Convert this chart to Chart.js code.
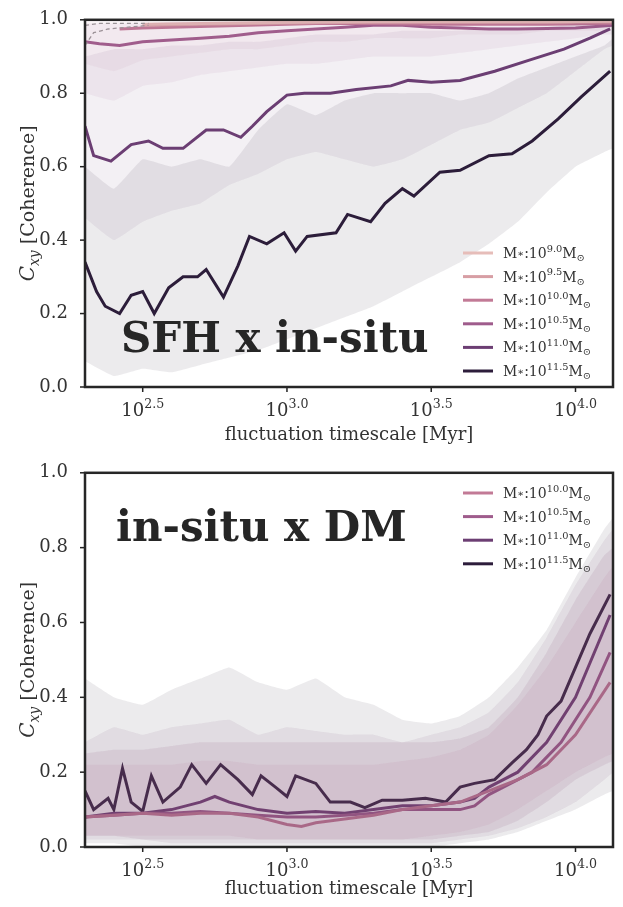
<!DOCTYPE html>
<html><head><meta charset="utf-8">
<script src="https://cdn.jsdelivr.net/npm/chart.js@4.4.0/dist/chart.umd.min.js"></script>
<style>html,body{margin:0;padding:0;background:#fff;width:623px;height:907px;overflow:hidden}
.w{position:absolute;left:0;width:623px}</style></head><body>
<div class="w" style="top:0;height:453px"><canvas id="c1"></canvas></div>
<div class="w" style="top:453px;height:454px"><canvas id="c2"></canvas></div>
<script>
// ---------- data (x values are log10 of timescale in Myr) ----------
const xTicks = [2.5, 3.0, 3.5, 4.0];
const xTickLabels = ["2.5", "3.0", "3.5", "4.0"];
const yTicks = [0.0, 0.2, 0.4, 0.6, 0.8, 1.0];
const massLabels = ["9.0", "9.5", "10.0", "10.5", "11.0", "11.5"];
const colors = ["#e6bdb9", "#d79ea4", "#c27a96", "#9f5c8c", "#6c3e73", "#2d1d3b"];
const bandX = [2.30,2.40,2.50,2.60,2.70,2.80,2.90,3.00,3.10,3.20,3.30,3.40,3.50,3.60,3.70,3.80,3.90,4.00,4.10,4.13];

// top panel: SFH x in-situ
const top_x115 = [2.30,2.34,2.37,2.42,2.46,2.50,2.54,2.59,2.64,2.69,2.72,2.78,2.83,2.87,2.93,2.99,3.03,3.07,3.17,3.21,3.29,3.34,3.40,3.44,3.53,3.60,3.70,3.78,3.85,3.94,4.02,4.12];
const top_y115 = [0.34,0.26,0.22,0.20,0.25,0.26,0.20,0.27,0.30,0.30,0.32,0.245,0.33,0.41,0.39,0.42,0.37,0.41,0.42,0.47,0.45,0.50,0.54,0.52,0.585,0.59,0.63,0.635,0.67,0.73,0.79,0.86];
const top_x110 = [2.30,2.33,2.39,2.46,2.52,2.57,2.64,2.72,2.78,2.84,2.88,2.93,3.00,3.06,3.15,3.24,3.36,3.42,3.50,3.60,3.72,3.84,3.96,4.05,4.12];
const top_y110 = [0.71,0.63,0.615,0.66,0.67,0.65,0.65,0.70,0.70,0.68,0.71,0.75,0.795,0.80,0.80,0.81,0.82,0.835,0.83,0.835,0.86,0.89,0.92,0.95,0.975];
const top_x105 = [2.30,2.35,2.42,2.50,2.60,2.70,2.80,2.90,3.00,3.10,3.20,3.30,3.40,3.50,3.60,3.70,3.80,3.90,4.00,4.13];
const top_y105 = [0.94,0.935,0.93,0.94,0.945,0.95,0.955,0.965,0.97,0.975,0.98,0.985,0.985,0.98,0.978,0.975,0.975,0.976,0.978,0.985];
const top_x100 = [2.42,2.50,2.70,2.90,3.10,3.30,3.50,3.70,3.90,4.13];
const top_y100 = [0.975,0.978,0.982,0.986,0.99,0.99,0.988,0.988,0.988,0.99];
const top_x95 = [2.50,2.70,2.90,3.10,3.30,3.50,3.70,3.90,4.13];
const top_y95 = [0.985,0.988,0.99,0.992,0.993,0.993,0.993,0.993,0.994];
const top_x90 = [2.50,2.70,2.90,3.10,3.30,3.50,3.70,3.90,4.13];
const top_y90 = [0.988,0.99,0.992,0.994,0.995,0.995,0.995,0.995,0.996];
const top_dashA_x = [2.30,2.33,2.38,2.45,2.52];
const top_dashA_y = [0.93,0.965,0.975,0.98,0.985];
const top_dashB_x = [2.30,2.35,2.42,2.52];
const top_dashB_y = [0.985,0.99,0.99,0.99];
const top_b115lo = [.07,.03,.05,.04,.06,.08,.10,.13,.16,.19,.22,.26,.30,.34,.39,.45,.53,.60,.64,.65];
const top_b115hi = [.60,.54,.62,.60,.62,.60,.70,.77,.74,.78,.80,.80,.80,.78,.80,.84,.87,.90,.93,.95];
const top_b110lo = [.46,.40,.45,.48,.50,.55,.58,.62,.64,.62,.60,.62,.66,.70,.72,.76,.80,.86,.92,.93];
const top_b110hi = [.90,.92,.92,.93,.93,.94,.94,.95,.96,.96,.96,.97,.97,.97,.98,.98,.98,.99,.99,.99];
const top_b105lo = [.80,.78,.82,.83,.85,.86,.87,.88,.88,.89,.90,.90,.90,.91,.92,.93,.94,.95,.96,.96];
const top_b105hi = [.99,.99,.99,.995,.995,.995,.995,.995,.995,.995,.995,.995,.995,.995,.995,.995,.995,.995,.995,.995];
const top_b100lo = [.88,.86,.89,.90,.91,.92,.92,.93,.94,.94,.95,.95,.95,.96,.96,.96,.97,.97,.97,.98];
const top_b100hi = [1,1,1,1,1,1,1,1,1,1,1,1,1,1,1,1,1,1,1,1];

// bottom panel: in-situ x DM
const bot_x115 = [2.30,2.33,2.38,2.40,2.43,2.46,2.50,2.53,2.57,2.63,2.67,2.72,2.77,2.83,2.88,2.91,2.96,3.00,3.03,3.10,3.15,3.22,3.27,3.33,3.40,3.48,3.55,3.60,3.65,3.72,3.78,3.83,3.87,3.90,3.95,4.00,4.05,4.12];
const bot_y115 = [0.15,0.10,0.13,0.10,0.21,0.12,0.095,0.19,0.12,0.16,0.22,0.17,0.22,0.18,0.14,0.19,0.16,0.135,0.19,0.17,0.12,0.12,0.105,0.125,0.125,0.13,0.12,0.16,0.17,0.18,0.225,0.26,0.30,0.35,0.39,0.48,0.57,0.675];
const bot_x110 = [2.30,2.40,2.50,2.60,2.70,2.75,2.80,2.90,3.00,3.10,3.20,3.30,3.40,3.50,3.60,3.65,3.70,3.80,3.90,4.00,4.12];
const bot_y110 = [0.08,0.09,0.09,0.10,0.12,0.135,0.12,0.10,0.09,0.095,0.09,0.10,0.11,0.11,0.12,0.13,0.16,0.20,0.28,0.40,0.62];
const bot_x105 = [2.30,2.40,2.50,2.60,2.70,2.80,2.90,3.00,3.10,3.20,3.30,3.40,3.50,3.60,3.65,3.70,3.85,3.95,4.05,4.12];
const bot_y105 = [0.08,0.085,0.09,0.09,0.095,0.09,0.085,0.08,0.08,0.085,0.09,0.10,0.10,0.10,0.11,0.14,0.20,0.28,0.40,0.52];
const bot_x100 = [2.30,2.40,2.50,2.60,2.70,2.80,2.90,3.00,3.05,3.10,3.20,3.30,3.40,3.50,3.60,3.70,3.80,3.90,4.00,4.12];
const bot_y100 = [0.08,0.085,0.09,0.085,0.09,0.09,0.08,0.06,0.055,0.065,0.075,0.085,0.10,0.11,0.12,0.15,0.18,0.22,0.30,0.44];
const bot_b115lo = [.01,.01,0,0,0,0,0,0,0,0,0,0,0,.01,.02,.04,.07,.10,.14,.15];
const bot_b115hi = [.45,.40,.38,.42,.45,.48,.44,.42,.45,.40,.38,.34,.33,.35,.40,.48,.58,.72,.85,.88];
const bot_b110lo = [.02,.02,.02,.01,.01,.01,.01,.01,.01,.01,.01,.01,.01,.02,.03,.05,.08,.12,.18,.20];
const bot_b110hi = [.28,.32,.30,.32,.33,.34,.30,.32,.31,.30,.30,.28,.30,.32,.36,.44,.56,.70,.82,.85];
const bot_b105lo = [.03,.03,.02,.02,.02,.02,.02,.02,.02,.02,.02,.02,.02,.03,.04,.07,.12,.18,.22,.23];
const bot_b105hi = [.25,.26,.26,.27,.28,.28,.28,.28,.28,.28,.28,.28,.28,.29,.32,.40,.52,.66,.78,.80];
const bot_b100lo = [.03,.03,.03,.03,.03,.03,.02,.02,.02,.02,.02,.02,.03,.04,.06,.10,.15,.20,.24,.25];
const bot_b100hi = [.22,.22,.22,.22,.23,.23,.22,.22,.22,.22,.22,.23,.24,.26,.30,.38,.48,.60,.72,.75];

// ---------- helpers ----------
const pts = (xs, ys) => xs.map((x, i) => ({x, y: ys[i]}));
function hexA(h, a){const n=parseInt(h.slice(1),16);return `rgba(${n>>16},${(n>>8)&255},${n&255},${a})`;}
function band(lo, hi, col, a){
  return [
    {data: pts(bandX, lo), borderWidth: 0, pointRadius: 0, fill: false, tension: 0.1},
    {data: pts(bandX, hi), borderWidth: 0, pointRadius: 0, fill: '-1', backgroundColor: hexA(col, a), tension: 0.1}
  ];
}
function line(xs, ys, col, w, dash){
  return {data: pts(xs, ys), borderColor: col, borderWidth: w || 3, pointRadius: 0, fill: false, borderDash: dash || [], tension: 0};
}
const SERIF = '"DejaVu Serif", serif';

function drawSup(ctx, x, y, base, sup, size, align){
  ctx.font = `${size}px ${SERIF}`;
  const wb = ctx.measureText(base).width;
  ctx.font = `${size*0.7}px ${SERIF}`;
  const ws = ctx.measureText(sup).width;
  let sx = align === 'center' ? x - (wb + ws)/2 : x;
  ctx.textAlign = 'left'; ctx.textBaseline = 'alphabetic';
  ctx.font = `${size}px ${SERIF}`; ctx.fillText(base, sx, y);
  ctx.font = `${size*0.7}px ${SERIF}`; ctx.fillText(sup, sx + wb, y - size*0.45);
  return sx + wb + ws;
}

function makePlugin(label, legendIdx, legendY0, xTitleY){
  return {
    id: 'deco',
    afterDraw(chart){
      const ctx = chart.ctx, a = chart.chartArea, xs = chart.scales.x, ys = chart.scales.y;
      ctx.save();
      ctx.fillStyle = '#333';
      xTicks.forEach((t, i) => drawSup(ctx, xs.getPixelForValue(t), a.bottom + 29, '10', xTickLabels[i], 18, 'center'));
      ctx.strokeStyle = '#222'; ctx.lineWidth = 1.5;
      xTicks.forEach(t => {const p = xs.getPixelForValue(t); ctx.beginPath(); ctx.moveTo(p, a.bottom); ctx.lineTo(p, a.bottom + 5); ctx.stroke();});
      yTicks.forEach(t => {const p = ys.getPixelForValue(t); ctx.beginPath(); ctx.moveTo(a.left, p); ctx.lineTo(a.left - 5, p); ctx.stroke();});
      ctx.font = `18px ${SERIF}`; ctx.textAlign = 'center'; ctx.textBaseline = 'alphabetic';
      ctx.fillText('fluctuation timescale [Myr]', (a.left + a.right)/2, xTitleY);
      ctx.save();
      ctx.translate(28, (a.top + a.bottom)/2); ctx.rotate(-Math.PI/2);
      const tail = ' [Coherence]';
      ctx.font = `italic 20px ${SERIF}`; const wC = ctx.measureText('C').width;
      ctx.font = `italic 14px ${SERIF}`; const wxy = ctx.measureText('xy').width;
      ctx.font = `19px ${SERIF}`; const wt = ctx.measureText(tail).width;
      let sx = -(wC + wxy + wt)/2;
      ctx.textAlign = 'left';
      ctx.font = `italic 20px ${SERIF}`; ctx.fillText('C', sx, 6);
      ctx.font = `italic 14px ${SERIF}`; ctx.fillText('xy', sx + wC, 11);
      ctx.font = `19px ${SERIF}`; ctx.fillText(tail, sx + wC + wxy, 6);
      ctx.restore();
      ctx.fillStyle = '#262626';
      ctx.font = `bold 42px ${SERIF}`; ctx.textAlign = 'left';
      ctx.fillText(label.text, label.x, label.y);
      legendIdx.forEach((k, i) => {
        const y = legendY0 + i * 23.6;
        ctx.strokeStyle = colors[k]; ctx.lineWidth = 3; ctx.setLineDash([]);
        ctx.beginPath(); ctx.moveTo(463, y); ctx.lineTo(493, y); ctx.stroke();
        ctx.fillStyle = '#333';
        ctx.font = `14px ${SERIF}`; ctx.textAlign = 'left';
        ctx.fillText('M', 503, y + 5);
        let x = 503 + ctx.measureText('M').width;
        ctx.font = `10px ${SERIF}`; ctx.fillText('∗', x, y + 4); x += ctx.measureText('∗').width;
        x = drawSup(ctx, x, y + 5, ':10', massLabels[k], 14, 'left');
        ctx.font = `14px ${SERIF}`; ctx.fillText('M', x, y + 5); x += ctx.measureText('M').width;
        ctx.font = `10px ${SERIF}`; ctx.fillText('⊙', x, y + 8);
      });
      ctx.strokeStyle = '#262626'; ctx.lineWidth = 2.5;
      ctx.strokeRect(a.left, a.top, a.right - a.left, a.bottom - a.top);
      ctx.restore();
    }
  };
}

function opts(padTop, xH){
  return {
    responsive: true, maintainAspectRatio: false, animation: false,
    layout: {padding: {top: padTop, right: 10, left: 0, bottom: 0}},
    plugins: {legend: {display: false}, tooltip: {enabled: false}},
    scales: {
      x: {type: 'linear', min: 2.30, max: 4.13, grid: {display: false}, border: {display: false},
          ticks: {display: false}, afterFit(s){ s.height = xH; }},
      y: {min: 0, max: 1, grid: {display: false}, border: {display: false},
          afterBuildTicks(s){ s.ticks = yTicks.map(v => ({value: v})); },
          ticks: {color: '#333', padding: 9, font: {family: SERIF, size: 18}, callback: v => v.toFixed(1)},
          afterFit(s){ s.width = 85; }}
    }
  };
}

const topDatasets = [
  ...band(top_b115lo, top_b115hi, colors[5], 0.09),
  ...band(top_b110lo, top_b110hi, colors[4], 0.08),
  ...band(top_b105lo, top_b105hi, colors[3], 0.08),
  ...band(top_b100lo, top_b100hi, colors[2], 0.08),
  line(top_dashA_x, top_dashA_y, '#999', 1.3, [4, 3]),
  line(top_dashB_x, top_dashB_y, '#999', 1.3, [4, 3]),
  line(top_x90, top_y90, colors[0]),
  line(top_x95, top_y95, colors[1]),
  line(top_x100, top_y100, colors[2]),
  line(top_x105, top_y105, colors[3]),
  line(top_x110, top_y110, colors[4]),
  line(top_x115, top_y115, colors[5])
];
new Chart(document.getElementById('c1'), {
  type: 'line', data: {datasets: topDatasets}, options: opts(12, 66),
  plugins: [makePlugin({text: 'SFH x in-situ', x: 121, y: 352}, [0,1,2,3,4,5], 253, 440)]
});

const botDatasets = [
  ...band(bot_b115lo, bot_b115hi, colors[5], 0.09),
  ...band(bot_b110lo, bot_b110hi, colors[4], 0.09),
  ...band(bot_b105lo, bot_b105hi, colors[3], 0.12),
  ...band(bot_b100lo, bot_b100hi, colors[2], 0.1),
  line(bot_x100, bot_y100, colors[2]),
  line(bot_x105, bot_y105, colors[3]),
  line(bot_x110, bot_y110, colors[4]),
  line(bot_x115, bot_y115, colors[5])
];
new Chart(document.getElementById('c2'), {
  type: 'line', data: {datasets: botDatasets}, options: opts(18, 60),
  plugins: [makePlugin({text: 'in-situ x DM', x: 116, y: 88}, [2,3,4,5], 40, 441)]
});
</script></body></html>
